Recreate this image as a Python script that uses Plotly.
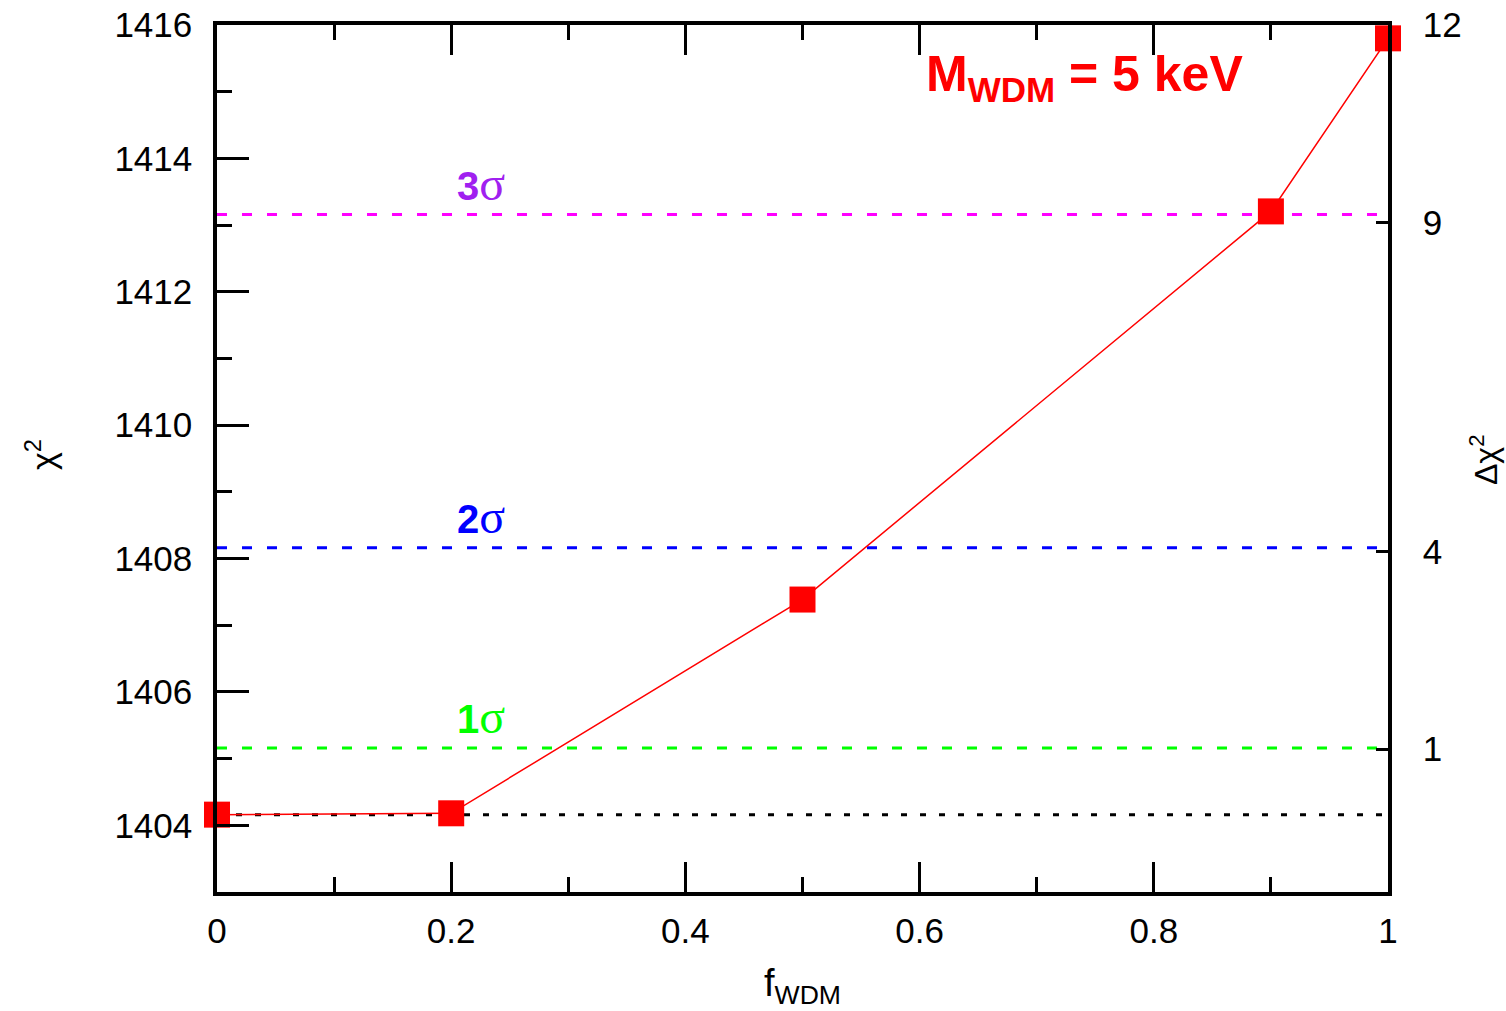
import plotly.graph_objects as go

# chi^2 of the fit versus the warm dark matter fraction (M_WDM = 5 keV)
f_wdm = [0.0, 0.2, 0.5, 0.9, 1.0]
chi2 = [1404.16, 1404.18, 1407.385, 1413.205, 1415.8]

# reference minimum and the confidence-level offsets
chi2_min = 1404.16
delta_levels = [1, 4, 9]
level_numbers = ["1", "2", "3"]
level_line_colors = ["#00ff00", "#0000ff", "#ff00ff"]
level_text_colors = ["#00ff00", "#0000ff", "#a020f0"]

# tick values
y_ticks = [1404, 1406, 1408, 1410, 1412, 1414, 1416]
y2_ticks = [1, 4, 9, 12]

FONT = "Liberation Sans, Arial, sans-serif"
SERIF = "Liberation Serif, DejaVu Serif, serif"

W, H = 1506, 1011
L, R, T, B = 217, 118, 25, 119
pw, ph = W - L - R, H - T - B

fig = go.Figure()

# horizontal reference line at the minimum
fig.add_trace(go.Scatter(
    x=[0, 1], y=[chi2_min, chi2_min], mode="lines",
    line=dict(color="black", width=3, dash="6px,13px"),
    hoverinfo="skip", showlegend=False, cliponaxis=False,
))

# confidence level lines
for d, col in zip(delta_levels, level_line_colors):
    fig.add_trace(go.Scatter(
        x=[0, 1], y=[chi2_min + d, chi2_min + d], mode="lines",
        line=dict(color=col, width=3, dash="10px,15px"),
        hoverinfo="skip", showlegend=False, cliponaxis=False,
    ))

# data
fig.add_trace(go.Scatter(
    x=f_wdm, y=chi2, mode="lines+markers",
    line=dict(color="#ff0000", width=1.5),
    marker=dict(symbol="square", size=26, color="#ff0000", line=dict(width=0)),
    showlegend=False, cliponaxis=False,
))

# empty trace to activate the right-hand axis
fig.add_trace(go.Scatter(x=[None], y=[None], yaxis="y2", showlegend=False,
                         hoverinfo="skip"))

annotations = []
for d, num, col in zip(delta_levels, level_numbers, level_text_colors):
    annotations.append(dict(
        x=0.2255, y=chi2_min + d + 0.47, xref="x", yref="y",
        text="<b>" + num + "</b><span style='font-family:" + SERIF
             + ";font-size:48px'>σ</span>",
        showarrow=False,
        font=dict(family=FONT, size=40, color=col),
        xanchor="center", yanchor="middle",
    ))

annotations.append(dict(
    x=0.741, y=1415.22, xref="x", yref="y",
    text="<b>M<sub>WDM</sub> = 5 keV</b>", showarrow=False,
    font=dict(family=FONT, size=50, color="#ff0000"),
    xanchor="center", yanchor="middle",
))


def px_annotation(xp, yp, text, size, angle=0):
    return dict(
        x=(xp - L) / pw, y=1 - (yp - T) / ph, xref="paper", yref="paper",
        text=text, showarrow=False, textangle=angle,
        font=dict(family=FONT, size=size, color="black"),
        xanchor="center", yanchor="middle",
    )


# axis titles
annotations.append(px_annotation(40, 455, "χ<sup>2</sup>", 34, -90))
annotations.append(px_annotation(802, 986, "f<sub>WDM</sub>", 38))
annotations.append(px_annotation(1484, 460, "Δχ<sup>2</sup>", 32, -90))

fig.update_layout(
    width=W, height=H,
    margin=dict(l=L, r=R, t=T, b=B, autoexpand=False),
    paper_bgcolor="white", plot_bgcolor="white",
    font=dict(family=FONT, size=35, color="black"),
    xaxis=dict(
        range=[0, 1], dtick=0.2, tick0=0, automargin=False,
        ticks="inside", ticklen=30, tickwidth=3, tickcolor="black",
        minor=dict(dtick=0.1, ticks="inside", ticklen=15, tickwidth=3,
                   tickcolor="black", showgrid=False),
        showline=True, linewidth=3.5, linecolor="black", mirror="ticks",
        showgrid=False, zeroline=False, ticklabelstandoff=5,
        tickfont=dict(family=FONT, size=35),
    ),
    yaxis=dict(
        range=[1403, 1416], tickvals=y_ticks, automargin=False,
        ticks="inside", ticklen=32, tickwidth=3, tickcolor="black",
        minor=dict(dtick=1, tick0=1403, ticks="inside", ticklen=15, tickwidth=3,
                   tickcolor="black", showgrid=False),
        showline=True, linewidth=3.5, linecolor="black", mirror=False,
        showgrid=False, zeroline=False, ticklabelstandoff=14,
        tickfont=dict(family=FONT, size=35),
    ),
    yaxis2=dict(
        overlaying="y", side="right", range=[-1.17, 12], tickvals=y2_ticks,
        automargin=False,
        ticks="inside", ticklen=12, tickwidth=3, tickcolor="black",
        showline=True, linewidth=3.5, linecolor="black",
        showgrid=False, zeroline=False, ticklabelstandoff=24,
        tickfont=dict(family=FONT, size=35),
    ),
    annotations=annotations,
)

fig.write_html("out.html")
